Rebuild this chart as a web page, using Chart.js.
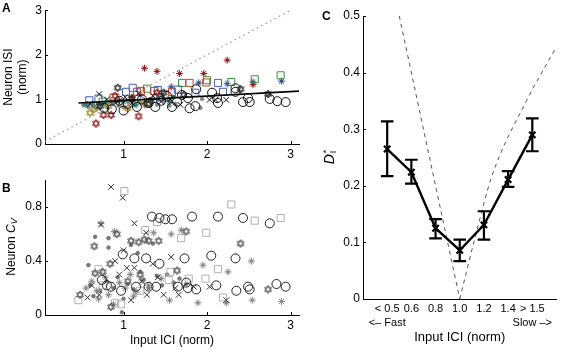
<!DOCTYPE html>
<html>
<head>
<meta charset="utf-8">
<script src="https://cdn.jsdelivr.net/npm/chart.js@4.4.1/dist/chart.umd.min.js"></script>
<style>
  html, body { margin: 0; padding: 0; background: #fff; }
  body { width: 565px; height: 350px; position: relative; overflow: hidden;
         font-family: "Liberation Sans", Arial, sans-serif; color: #000; }
  .box { position: absolute; }
  .lbl { position: absolute; font-weight: bold; font-size: 12px; line-height: 1; }
  .ytitle { position: absolute; white-space: nowrap; line-height: 1;
            transform: translate(-50%, -50%) rotate(-90deg); font-size: 12px; }
  .ytitle sub { font-size: 9px; vertical-align: -2px; }
  .stack { display: inline-block; vertical-align: middle; font-size: 9px; line-height: 0.85;
           text-align: left; margin-left: 1px; }
</style>
</head>
<body>
<div class="box" style="left:0;top:0;width:305px;height:162px"><canvas id="ca"></canvas></div>
<div class="box" style="left:0;top:170px;width:305px;height:180px"><canvas id="cb"></canvas></div>
<div class="box" style="left:300px;top:0;width:265px;height:350px"><canvas id="cc"></canvas></div>

<div class="lbl" style="left:2px;top:2px">A</div>
<div class="lbl" style="left:2px;top:182px">B</div>
<div class="lbl" style="left:322px;top:10px">C</div>
<div class="ytitle" style="left:12px;top:247px">Neuron <i>C</i><sub><i>V</i></sub></div>
<div class="ytitle" style="left:330px;top:157px;font-size:14px"><i>D</i><span class="stack">*<br>I</span></div>

<script>
/* ---- AXES ---------------------------------------------------- */
const xTicksAB = [1, 2, 3];
const yTicksA = [0, 1, 2, 3];
const yTicksB = [0, 0.4, 0.8];
const yTicksC = [0, 0.1, 0.2, 0.3, 0.4, 0.5];

/* ---- PANEL A: neuron ISI vs input ICI ------------------------ */
const diagX = [0.06, 3.0], diagY = [0.06, 3.0];
const fitX = [0.46, 3.1], fitY = [0.92, 1.185];

const aCircX = [0.77,0.86,0.95,1.00,1.05,1.16,1.22,1.30,1.38,1.45,1.52,1.58,1.64,1.70,1.77,1.79,1.86,1.87,2.06,2.12,2.13,2.34,2.34,2.43,2.49,2.51,2.75,2.84,2.94];
const aCircY = [0.81,0.78,0.97,0.75,0.90,0.83,1.00,0.92,0.83,0.97,1.08,0.83,0.95,1.10,1.03,0.80,0.85,1.23,1.15,1.03,0.92,1.25,1.17,0.94,1.03,0.94,1.01,0.96,0.94];
const aCrossX = [0.60,0.71,0.80,0.93,1.02,1.10,1.18,1.27,1.35,1.45,1.56,1.68,2.03,2.10,2.23];
const aCrossY = [0.90,1.12,1.00,0.95,1.05,0.92,1.13,0.98,1.08,0.95,1.00,0.88,0.99,0.99,0.99];
const aHexX = [0.72,0.93,1.10,1.30,1.48,1.72,2.40,2.73];
const aHexY = [0.85,1.26,1.02,0.90,1.15,1.10,1.23,1.12];
const aHexRedX = [0.67,0.76,0.85,1.18,0.90,1.40];
const aHexRedY = [0.46,0.65,0.65,0.62,1.08,1.15];
const aHexOlvX = [0.60,0.65,0.82,1.05,1.25];
const aHexOlvY = [0.70,0.78,0.85,0.80,0.92];
const aSqBlueX = [0.59,0.70,1.03,1.11,1.41,1.44,1.65,1.86,2.13,2.19];
const aSqBlueY = [0.98,1.02,1.17,1.26,1.21,1.05,1.22,1.15,1.37,1.17];
const aSqRedX = [0.88,1.16,1.21,1.37,1.58,1.79,1.99];
const aSqRedY = [1.04,1.17,1.19,1.19,1.17,1.37,1.38];
const aSqGrnX = [0.75,1.28,1.50,1.70,2.00,2.29,2.57,2.88];
const aSqGrnY = [0.95,1.24,1.10,1.37,1.43,1.39,1.45,1.54];
const aAstRedX = [1.25,1.40,1.67,1.96,2.24,2.55,1.10,0.95];
const aAstRedY = [1.70,1.63,1.58,1.58,1.88,1.33,1.05,0.98];
const aAstBluX = [1.57,1.90,2.24,2.55,2.89,1.20,0.85,1.35];
const aAstBluY = [1.28,1.37,1.35,1.39,1.41,1.10,0.95,1.00];
const aAstTealX = [0.55,0.65,0.78,1.00,1.15,1.42,1.55];
const aAstTealY = [0.88,0.85,0.92,0.95,0.88,1.02,0.95];
const aDotX = [0.52,0.58,0.63,0.68,0.74,0.80,0.87,0.94,1.00,1.06,1.13,1.19,1.26,1.33,1.40,1.48,1.55,1.62,1.92,1.94];
const aDotY = [0.87,0.83,0.92,0.80,0.88,0.84,0.90,0.86,0.82,0.93,0.87,0.95,0.85,0.92,0.88,0.97,0.86,0.90,0.81,1.01];
const aDotGrnX = [0.70,0.90,1.12,1.32,1.60];
const aDotGrnY = [0.90,0.95,0.98,1.00,1.05];

/* ---- PANEL B: neuron CV vs input ICI ------------------------- */
const bCircX = [0.74,0.80,0.85,0.97,0.99,1.13,1.15,1.27,1.30,1.34,1.39,1.43,1.43,1.50,1.58,1.65,1.73,1.75,1.77,1.82,1.87,2.05,2.11,2.13,2.34,2.35,2.43,2.49,2.51,2.75,2.83,2.94];
const bCircY = [0.26,0.22,0.21,0.18,0.45,0.42,0.21,0.42,0.21,0.73,0.21,0.72,0.38,0.71,0.71,0.21,0.42,0.24,0.20,0.73,0.19,0.44,0.22,0.73,0.42,0.18,0.72,0.21,0.19,0.68,0.23,0.21];
const bCrossX = [0.57,0.71,0.73,0.85,0.90,0.99,1.00,1.04,1.09,1.13,1.13,1.22,1.27,1.28,1.35,1.41,1.48,1.57,1.62,1.66,1.84,2.03,2.23,0.62,0.95];
const bCrossY = [0.13,0.15,0.67,0.95,0.40,0.87,0.48,0.35,0.11,0.68,0.35,0.25,0.61,0.15,0.38,0.28,0.15,0.43,0.20,0.15,0.21,0.21,0.11,0.22,0.30];
const bHexX = [0.48,0.65,0.66,0.75,0.84,0.85,0.92,1.09,1.18,1.25,1.30,1.42,1.64,1.75,2.40,2.73,1.05,1.20];
const bHexY = [0.15,0.51,0.31,0.32,0.38,0.06,0.60,0.55,0.54,0.56,0.55,0.55,0.33,0.62,0.53,0.19,0.25,0.30];
const bSqX = [0.46,0.70,0.90,0.97,1.01,1.26,1.40,1.54,1.56,1.69,1.78,1.98,1.99,2.13,2.19,2.29,2.57,2.88,0.75,1.20];
const bSqY = [0.11,0.34,0.09,0.08,0.92,0.63,0.69,0.26,0.32,0.57,0.27,0.27,0.61,0.34,0.13,0.82,0.70,0.72,0.22,0.18];
const bAstX = [0.55,0.62,0.68,0.73,0.78,0.82,0.89,0.95,1.02,1.08,1.15,1.22,1.30,1.36,1.45,1.55,1.57,1.69,1.89,1.95,2.23,2.25,2.53,2.54,2.89,0.70,0.88,1.12];
const bAstY = [0.20,0.25,0.18,0.68,0.28,0.15,0.62,0.24,0.20,0.30,0.17,0.26,0.22,0.61,0.27,0.11,0.60,0.63,0.09,0.37,0.09,0.32,0.40,0.11,0.10,0.12,0.08,0.14];
const bDotX = [0.58,0.60,0.66,0.72,0.80,0.82,0.82,0.88,0.93,0.98,1.05,1.09,1.12,1.17,1.24,1.30,1.35,1.40,1.46,1.52,1.60,1.67,1.75,0.64,1.00,1.20];
const bDotY = [0.37,0.22,0.58,0.18,0.25,0.57,0.50,0.20,0.28,0.02,0.23,0.52,0.19,0.46,0.26,0.20,0.53,0.29,0.22,0.30,0.24,0.27,0.23,0.14,0.12,0.32];

/* ---- PANEL C: D_I* per input ICI bin ------------------------- */
const cPos = [1, 2, 3, 4, 5, 6, 7];
const cLabels = ['< 0.5', '0.6', '0.8', '1.0', '1.2', '1.4', '> 1.5'];
const cMean = [0.265, 0.224, 0.125, 0.086, 0.131, 0.211, 0.290];
const cLo   = [0.217, 0.204, 0.107, 0.067, 0.105, 0.198, 0.261];
const cHi   = [0.314, 0.246, 0.141, 0.105, 0.155, 0.226, 0.319];
const fastLabel = '<– Fast', slowLabel = 'Slow –>';
const cFastX = [1.5, 4.0], cFastY = [0.5, 0.0];
const cSlowX = [4.0, 4.66, 5.32, 6.77, 8.0], cSlowY = [0.0, 0.113, 0.216, 0.351, 0.446];

/* ---- HELPERS ------------------------------------------------- */
Chart.defaults.font.family = '"Liberation Sans", Arial, sans-serif';
Chart.defaults.font.size = 12;
Chart.defaults.color = '#000';

const pts = (xs, ys) => xs.map((x, i) => ({ x, y: ys[i] }));

// hexagram / asterisk markers drawn on small canvases
function marker(kind, color, size) {
  const c = document.createElement('canvas');
  c.width = c.height = size;
  const g = c.getContext('2d');
  const m = size / 2, r = size / 2 - 1;
  g.strokeStyle = color; g.fillStyle = color; g.lineWidth = 1;
  if (kind === 'hex') {
    [-90, 90].forEach(a0 => {
      g.beginPath();
      for (let k = 0; k < 3; k++) {
        const a = (a0 + k * 120) * Math.PI / 180;
        g[k ? 'lineTo' : 'moveTo'](m + r * Math.cos(a), m + r * Math.sin(a));
      }
      g.closePath(); g.stroke();
    });
  } else {
    for (let k = 0; k < 4; k++) {
      const a = k * Math.PI / 4;
      g.beginPath();
      g.moveTo(m - r * Math.cos(a), m - r * Math.sin(a));
      g.lineTo(m + r * Math.cos(a), m + r * Math.sin(a));
      g.stroke();
    }
    g.beginPath(); g.arc(m, m, size / 5, 0, 2 * Math.PI); g.fill();
  }
  return c;
}

function sc(xs, ys, style, color, radius, fill) {
  return {
    data: pts(xs, ys), pointStyle: style, pointRadius: radius, pointHoverRadius: radius,
    borderColor: color, backgroundColor: fill || 'rgba(0,0,0,0)', borderWidth: 1
  };
}
function line(xs, ys, color, width, dash) {
  return {
    data: pts(xs, ys), showLine: true, pointRadius: 0, borderColor: color,
    borderWidth: width, borderDash: dash || []
  };
}

// matlab style ticks pointing into the plot
const tickMarks = {
  id: 'tickMarks',
  afterDraw(chart, args, opts) {
    const ctx = chart.ctx, a = chart.chartArea;
    ctx.save();
    ctx.strokeStyle = '#000'; ctx.lineWidth = 1;
    (opts.axes || []).forEach(id => {
      const s = chart.scales[id];
      s.ticks.forEach(t => {
        const p = Math.round(s.getPixelForValue(t.value)) + 0.5;
        ctx.beginPath();
        if (s.isHorizontal()) { ctx.moveTo(p, a.bottom); ctx.lineTo(p, a.bottom - 3); }
        else { ctx.moveTo(a.left, p); ctx.lineTo(a.left + 3, p); }
        ctx.stroke();
      });
    });
    ctx.restore();
  }
};

function axis(min, max, ticks, size, extra) {
  return Object.assign({
    type: 'linear', min, max,
    grid: { display: false, drawTicks: false },
    border: { display: true, color: '#000', width: 1 },
    afterBuildTicks: s => { s.ticks = ticks.map(v => ({ value: v })); },
    afterFit: s => { if (s.isHorizontal()) s.height = size; else s.width = size; },
    ticks: { autoSkip: false, maxRotation: 0, minRotation: 0, padding: 3, callback: v => String(v) }
  }, extra || {});
}

const base = {
  responsive: true, maintainAspectRatio: false, animation: false,
  plugins: { legend: { display: false }, tooltip: { enabled: false } }
};

/* ---- PANEL A ------------------------------------------------- */
new Chart(document.getElementById('ca'), {
  type: 'scatter',
  plugins: [tickMarks],
  data: { datasets: [
    line(fitX, fitY, '#000', 1.6),
    sc(aCircX, aCircY, 'circle', '#111', 4.5),
    sc(aCrossX, aCrossY, 'crossRot', '#111', 4),
    sc(aHexX, aHexY, marker('hex', '#222', 10), '#222', 4),
    sc(aHexRedX, aHexRedY, marker('hex', '#8b1a1a', 10), '#8b1a1a', 4),
    sc(aHexOlvX, aHexOlvY, marker('hex', '#9a8a2a', 10), '#9a8a2a', 4),
    sc(aSqBlueX, aSqBlueY, 'rect', '#4a5cc0', 5),
    sc(aSqRedX, aSqRedY, 'rect', '#c0452f', 5),
    sc(aSqGrnX, aSqGrnY, 'rect', '#3a8f3a', 5),
    sc(aAstRedX, aAstRedY, marker('ast', '#8b1f1f', 9), '#8b1f1f', 4),
    sc(aAstBluX, aAstBluY, marker('ast', '#2f4f86', 9), '#2f4f86', 4),
    sc(aAstTealX, aAstTealY, marker('ast', '#2e7b74', 9), '#2e7b74', 4),
    sc(aDotX, aDotY, 'circle', '#8a8a8a', 1.8, '#8a8a8a'),
    sc(aDotGrnX, aDotGrnY, 'circle', '#2f5a2f', 1.8, '#2f5a2f'),
    line(diagX, diagY, '#999', 1.2, [1.5, 3.5])
  ]},
  options: Object.assign({}, base, {
    layout: { padding: { top: 6, right: 5, left: 0, bottom: 0 } },
    plugins: Object.assign({}, base.plugins, { tickMarks: { axes: ['x', 'y'] } }),
    scales: {
      x: axis(0.06, 3.1, xTicksAB, 18, {}),
      y: axis(0, 3, yTicksA, 45, {
        title: { display: true, text: ['Neuron ISI', '(norm)'], padding: { top: 1, bottom: 0 },
                 font: { size: 12 } }
      })
    }
  })
});

/* ---- PANEL B ------------------------------------------------- */
new Chart(document.getElementById('cb'), {
  type: 'scatter',
  plugins: [tickMarks],
  data: { datasets: [
    sc(bCircX, bCircY, 'circle', '#222', 4.5),
    sc(bCrossX, bCrossY, 'crossRot', '#333', 4),
    sc(bHexX, bHexY, marker('hex', '#555', 10), '#555', 4),
    sc(bSqX, bSqY, 'rect', '#b0b0b0', 5),
    sc(bAstX, bAstY, marker('ast', '#8a8a8a', 9), '#8a8a8a', 4),
    sc(bDotX, bDotY, 'circle', '#777', 1.8, '#777')
  ]},
  options: Object.assign({}, base, {
    layout: { padding: { top: 9, right: 5, left: 0, bottom: 0 } },
    plugins: Object.assign({}, base.plugins, { tickMarks: { axes: ['x', 'y'] } }),
    scales: {
      x: axis(0.06, 3.1, xTicksAB, 35, {
        title: { display: true, text: 'Input ICI (norm)', padding: { top: 0, bottom: 2 },
                 font: { size: 12 } }
      }),
      y: axis(0, 1, yTicksB, 45, {})
    }
  })
});

/* ---- PANEL C ------------------------------------------------- */
const errData = [];
cPos.forEach((p, i) => {
  errData.push({ x: p, y: cLo[i] }, { x: p, y: cHi[i] }, { x: p, y: null });
});
const cTickText = cLabels.map((l, i) =>
  i === 0 ? [l, fastLabel] : i === cLabels.length - 1 ? [l, slowLabel] : l);

new Chart(document.getElementById('cc'), {
  type: 'scatter',
  plugins: [tickMarks],
  data: { datasets: [
    { data: pts(cPos, cMean), showLine: true, borderColor: '#000', borderWidth: 2.4,
      pointStyle: 'crossRot', pointRadius: 4.5, pointBorderWidth: 2.2, pointBorderColor: '#000' },
    { data: errData, showLine: true, spanGaps: false, borderColor: '#000', borderWidth: 2.2,
      pointStyle: 'line', pointRadius: 6.3, pointBorderWidth: 2.2, pointBorderColor: '#000' },
    line(cFastX, cFastY, '#555', 1, [4, 4]),
    Object.assign(line(cSlowX, cSlowY, '#555', 1, [4, 4]), { cubicInterpolationMode: 'monotone' })
  ]},
  options: Object.assign({}, base, {
    layout: { padding: { top: 16, right: 0, left: 0, bottom: 0 } },
    plugins: Object.assign({}, base.plugins, { tickMarks: { axes: ['y'] } }),
    scales: {
      x: axis(0, 8, cPos, 51, {
        ticks: { autoSkip: false, maxRotation: 0, minRotation: 0, padding: 3,
                 font: { size: 11, lineHeight: 1.25 },
                 callback: (v, i) => cTickText[i] },
        title: { display: true, text: 'Input ICI (norm)', padding: { top: 0, bottom: 5 },
                 font: { size: 13 } }
      }),
      y: axis(0, 0.5, yTicksC, 63, {})
    }
  })
});
</script>
</body>
</html>
